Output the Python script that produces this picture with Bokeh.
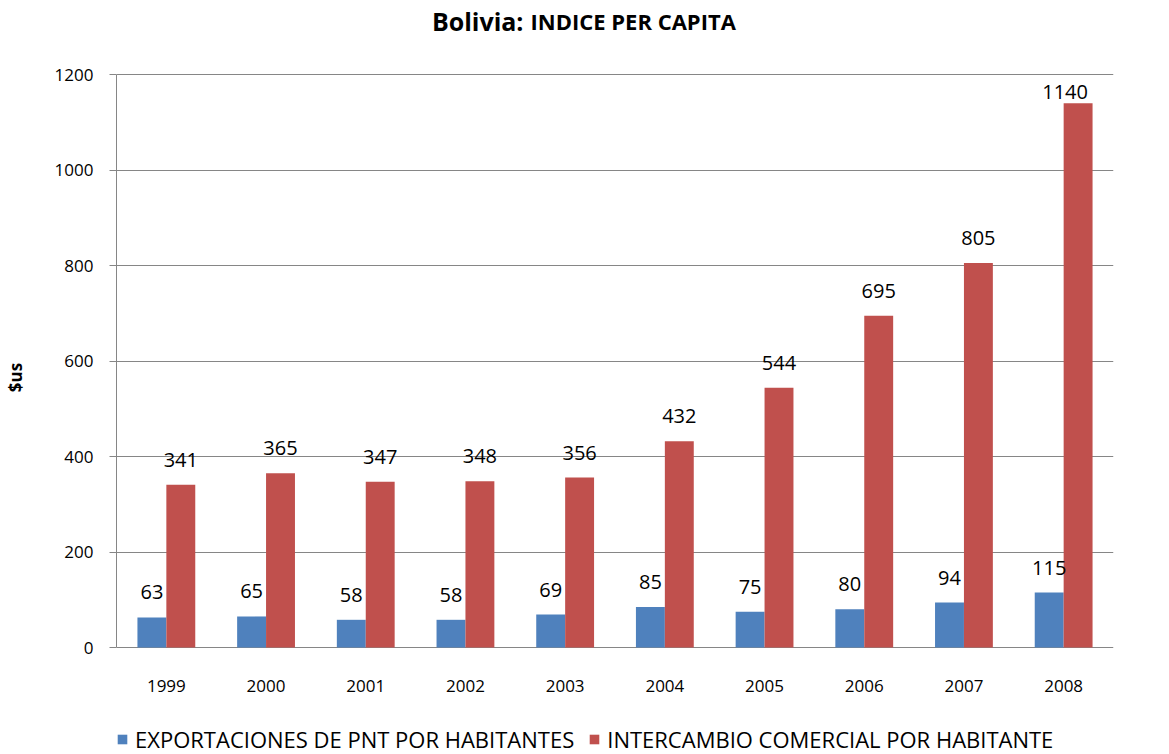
from bokeh.plotting import figure
from bokeh.models import (FactorRange, Range1d, FixedTicker, Legend, Label,
                          LegendItem, ColumnDataSource)
from bokeh.transform import dodge
from bokeh.core.properties import value
from bokeh.embed import file_html
from bokeh.resources import INLINE

# ---- data ----
years = ["1999", "2000", "2001", "2002", "2003", "2004", "2005", "2006", "2007", "2008"]
exportaciones = [63, 65, 58, 58, 69, 85, 75, 80, 94, 115]
intercambio = [341, 365, 347, 348, 356, 432, 544, 695, 805, 1140]
y_ticks = [0, 200, 400, 600, 800, 1000, 1200]
series_names = ["EXPORTACIONES DE PNT POR HABITANTES", "INTERCAMBIO COMERCIAL POR HABITANTE"]
title_part1 = "Bolivia:"
title_part2 = "INDICE PER CAPITA"
y_label = "$us"

# ---- layout ----
W, H = 1169, 754
ML, MR = 116, 56
PLOT_TOP, PLOT_BOTTOM = 74, 647          # pixel rows of the 1200 and 0 gridlines
YMAX = 1200
ppu = (PLOT_BOTTOM - PLOT_TOP) / YMAX
Y_LO = -(H - PLOT_BOTTOM) / ppu
Y_HI = YMAX + PLOT_TOP / ppu
BLUE = "#4F81BD"
RED = "#C0504D"
GRID = "#868686"
FONT = "Open Sans"


def label_offsets(vals):
    yo, xo = [], []
    for v in vals:
        from_top = (YMAX - v) * ppu - 25
        if from_top < 17:
            yo.append(-((YMAX - v) * ppu - 17))
            xo.append(-13)
        else:
            yo.append(-25)
            xo.append(0)
    return yo, xo


e_yo, e_xo = label_offsets(exportaciones)
i_yo, i_xo = label_offsets(intercambio)

src = ColumnDataSource(dict(
    year=years, zero=[0] * len(years),
    exp=exportaciones, exp_lbl=[str(v) for v in exportaciones], exp_yo=e_yo, exp_xo=e_xo,
    inter=intercambio, inter_lbl=[str(v) for v in intercambio], inter_yo=i_yo, inter_xo=i_xo,
))

p = figure(width=W, height=H, output_backend="svg", toolbar_location=None,
           x_range=FactorRange(factors=years, range_padding=0),
           y_range=Range1d(Y_LO, Y_HI), x_axis_location=None,
           min_border_left=ML, min_border_right=MR, min_border_top=0, min_border_bottom=0)
p.outline_line_color = None
p.background_fill_color = "white"
p.border_fill_color = "white"
p.xgrid.grid_line_color = None

bw = 0.29
r1 = p.vbar(x=dodge("year", -bw / 2, range=p.x_range), top="exp", bottom=0, width=bw,
            source=src, fill_color=BLUE, line_color=None)
r2 = p.vbar(x=dodge("year", bw / 2, range=p.x_range), top="inter", bottom=0, width=bw,
            source=src, fill_color=RED, line_color=None)

p.text(x=dodge("year", -bw / 2, range=p.x_range), y="exp", text="exp_lbl", source=src,
       text_align="center", text_baseline="middle", y_offset="exp_yo", x_offset="exp_xo",
       text_font=value(FONT), text_font_size="20px", text_color="black")
p.text(x=dodge("year", bw / 2, range=p.x_range), y="inter", text="inter_lbl", source=src,
       text_align="center", text_baseline="middle", y_offset="inter_yo", x_offset="inter_xo",
       text_font=value(FONT), text_font_size="20px", text_color="black")

# category labels (x axis) under the zero line
p.text(x="year", y="zero", text="year", source=src, y_offset=38,
       text_align="center", text_baseline="middle",
       text_font=value(FONT), text_font_size="17px", text_color="black")

# y axis
p.ygrid.grid_line_color = GRID
p.ygrid.grid_line_width = 1
p.yaxis.ticker = FixedTicker(ticks=y_ticks)
p.ygrid.ticker = FixedTicker(ticks=y_ticks)
p.yaxis.bounds = (0, YMAX)
p.yaxis.axis_line_color = GRID
p.yaxis.major_tick_line_color = GRID
p.yaxis.major_tick_out = 7
p.yaxis.major_tick_in = 0
p.yaxis.minor_tick_line_color = None
p.yaxis.major_label_standoff = 16
p.yaxis.major_label_text_font = FONT
p.yaxis.major_label_text_font_size = "17px"
p.yaxis.major_label_text_color = "black"
p.yaxis.axis_label = y_label
p.yaxis.axis_label_text_font = FONT
p.yaxis.axis_label_text_font_style = "bold"
p.yaxis.axis_label_text_font_size = "17px"
p.yaxis.axis_label_standoff = 25
p.yaxis.axis_label_text_color = "black"

# title (two styles), positioned above the plotting area
p.add_layout(Label(x=407, y=H - 20, x_units="screen", y_units="screen", text=title_part1,
                   text_align="right", text_baseline="alphabetic", text_font=FONT,
                   text_font_style="bold", text_font_size="25px", text_color="black"))
p.add_layout(Label(x=414, y=H - 20, x_units="screen", y_units="screen", text=title_part2,
                   text_align="left", text_baseline="alphabetic", text_font=FONT,
                   text_font_style="bold", text_font_size="22px", text_color="black"))

# legend
leg = Legend(items=[LegendItem(label=series_names[0], renderers=[r1]),
                    LegendItem(label=series_names[1], renderers=[r2])],
             location=(0, 0), orientation="horizontal", padding=0, margin=0, spacing=14,
             border_line_color=None, background_fill_alpha=0, glyph_width=12, glyph_height=12,
             label_standoff=7, label_text_font=FONT, label_text_font_size="22px",
             label_text_color="black")
p.add_layout(leg)

open("out.html", "w").write(file_html(p, INLINE))
